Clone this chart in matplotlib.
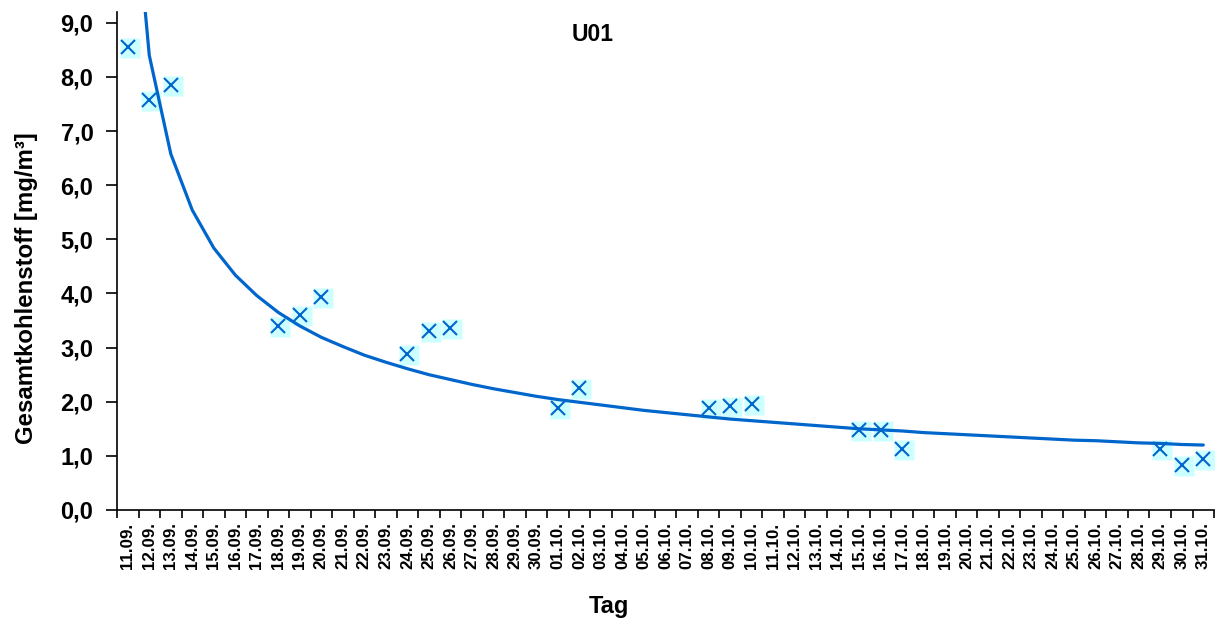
import matplotlib
matplotlib.use("Agg")
import matplotlib.pyplot as plt
import matplotlib.transforms as mtransforms
import numpy as np
import pandas as pd

plt.rcParams['font.family'] = ['Liberation Sans', 'DejaVu Sans']
plt.rcParams['font.weight'] = 'bold'

# Day labels (11.09. .. 31.10.)
days = list(pd.date_range('2021-09-11', '2021-10-31').strftime('%d.%m.'))

# Measured total carbon [mg/m³] on sampling days
sample_days = ['11.09.', '12.09.', '13.09.', '18.09.', '19.09.', '20.09.',
               '24.09.', '25.09.', '26.09.', '01.10.', '02.10.', '08.10.',
               '09.10.', '10.10.', '15.10.', '16.10.', '17.10.', '29.10.',
               '30.10.', '31.10.']
sample_values = [8.55, 7.57, 7.85, 3.39, 3.61, 3.93,
                 2.89, 3.30, 3.36, 1.89, 2.26, 1.88,
                 1.92, 1.95, 1.47, 1.47, 1.12, 1.12,
                 0.84, 0.95]

# Decay curve, one value per day
curve_values = [12.74, 8.40, 6.58, 5.54, 4.84, 4.34, 3.96, 3.65, 3.40, 3.19,
                3.02, 2.86, 2.73, 2.61, 2.50, 2.41, 2.32, 2.24, 2.17, 2.10,
                2.04, 1.99, 1.94, 1.89, 1.84, 1.80, 1.76, 1.72, 1.68, 1.65,
                1.62, 1.59, 1.56, 1.53, 1.50, 1.48, 1.46, 1.43, 1.41, 1.39,
                1.37, 1.35, 1.33, 1.31, 1.29, 1.28, 1.26, 1.24, 1.23, 1.21,
                1.20]

blue = '#0066CC'
cyan = '#CCFFFF'

fig = plt.figure(figsize=(12.15, 6.23), dpi=100)
ax = fig.add_axes([0.0963, 0.1814, 0.9029, 0.7993])

x_all = np.arange(len(days))
x_s = np.array([days.index(d) for d in sample_days])

# light squares behind the crosses, nudged slightly right/down
shift = mtransforms.offset_copy(ax.transData, fig=fig, x=2, y=-1, units='dots')
ax.plot(x_s, sample_values, linestyle='none', marker='s', markersize=13.7,
        markerfacecolor=cyan, markeredgecolor='none', transform=shift,
        clip_on=False, zorder=2)
ax.plot(x_s, sample_values, linestyle='none', marker='x', markersize=10,
        markeredgewidth=1.5, color=blue, clip_on=False, zorder=4)

ax.plot(x_all, curve_values, color=blue, linewidth=2.3, zorder=3,
        solid_joinstyle='round', solid_capstyle='round')

ax.set_xlim(-0.5, len(days) - 0.5)
ax.set_ylim(0, 9.2)

ax.set_yticks(np.arange(0, 10, 1))
ax.set_yticklabels([f'{v:.1f}'.replace('.', ',') for v in range(10)], fontsize=17,
                   fontweight='bold')
ax.tick_params(axis='y', direction='out', length=8, width=1.2, pad=9)

ax.set_xticks(x_all)
ax.set_xticklabels(days, rotation=90, fontsize=12.2, fontweight='bold')
ax.set_xticks(np.arange(-0.5, len(days), 1), minor=True)
ax.tick_params(axis='x', which='major', length=0, pad=9)
ax.tick_params(axis='x', which='minor', direction='out', length=6, width=1.2)

for s in ['top', 'right']:
    ax.spines[s].set_visible(False)
for s in ['left', 'bottom']:
    ax.spines[s].set_linewidth(1.2)

ax.set_ylabel('Gesamtkohlenstoff [mg/m³]', fontsize=17.3, fontweight='bold')
ax.yaxis.set_label_coords(-0.0716, 0.446)
fig.text(0.501, 0.027, 'Tag', ha='center', va='center', fontsize=17,
         fontweight='bold')
fig.text(0.488, 0.944, 'U01', ha='center', va='center', fontsize=16.5,
         fontweight='bold')

fig.savefig('out.png', dpi=100)
